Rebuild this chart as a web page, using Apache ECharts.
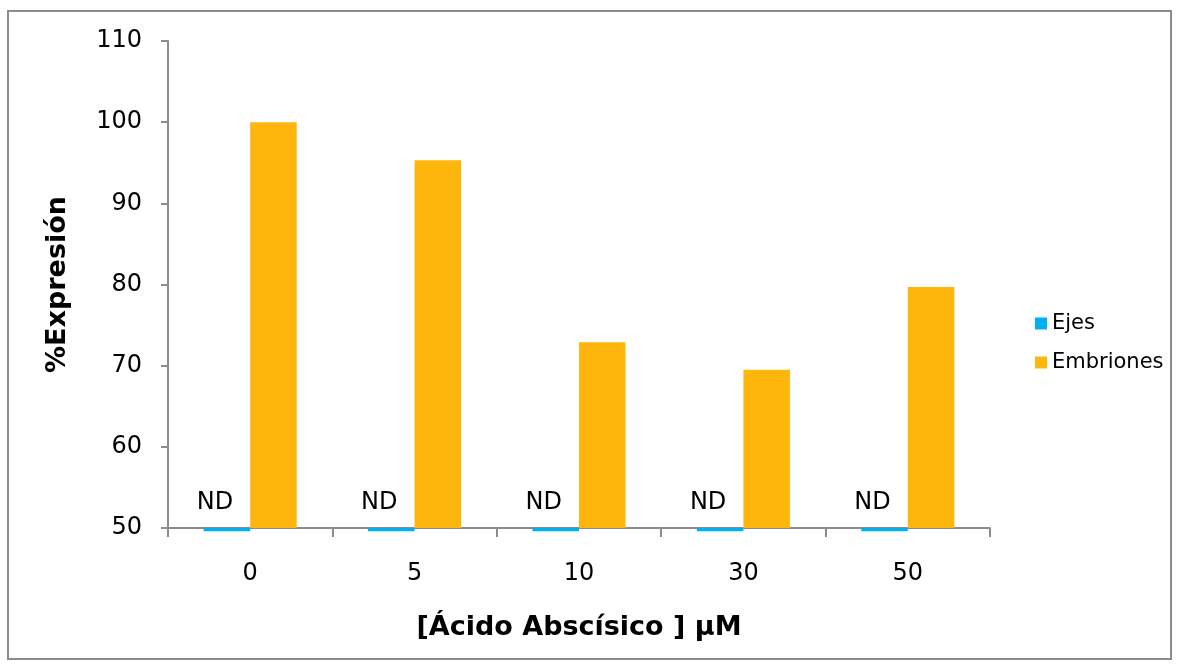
<!DOCTYPE html>
<html>
<head>
<meta charset="utf-8">
<script src="https://cdn.jsdelivr.net/npm/echarts@6/dist/echarts.min.js"></script>
<style>
  html, body { margin: 0; padding: 0; background: #fff; }
  #frame { position: absolute; left: 7px; top: 10px; width: 1165px; height: 650px; border: 2px solid #8c8c8c; box-sizing: border-box; }
  #chart { position: absolute; left: 0; top: 0; width: 1179px; height: 666px; }
</style>
</head>
<body>
<div id="frame"></div>
<div id="chart"></div>
<script>
// ABA concentrations (µM)
const categories = ['0', '5', '10', '30', '50'];
// Expression in axes: not detected, a sliver just under the baseline
const ejes = [49.6, 49.6, 49.6, 49.6, 49.6];
// Expression in embryos (%)
const embriones = [100, 95.3, 72.9, 69.5, 79.7];
const yTicks = { min: 50, max: 110, interval: 10 };

const font = 'Verdana, "DejaVu Sans", sans-serif';
const BAR_FRACTION = 0.283;   // bar width as a share of the category band

// Grouped bars drawn from the axis floor (yTicks.min) to each value.
function barRenderer(slot, withLabel) {
  return function (params, api) {
    const idx = api.value(0);
    const v = api.value(1);
    const band = api.size([1, 0])[0];
    const bw = band * BAR_FRACTION;
    const base = api.coord([idx, yTicks.min]);
    const end = api.coord([idx, v]);
    const x = slot === 0 ? base[0] - bw : base[0];
    const y0 = Math.min(base[1], end[1]);
    const h = Math.abs(base[1] - end[1]);
    const children = [{
      type: 'rect',
      shape: { x: x, y: y0, width: bw, height: h },
      style: api.style()
    }];
    if (withLabel) {
      children.push({
        type: 'text',
        style: {
          text: 'ND', x: x + bw / 2 - 12, y: base[1] - 25,
          align: 'center', verticalAlign: 'middle',
          fill: '#000', font: '24px ' + font
        }
      });
    }
    return { type: 'group', children: children };
  };
}

const chart = echarts.init(document.getElementById('chart'));
chart.setOption({
  animation: false,
  textStyle: { fontFamily: font },
  grid: { left: 168, right: 189, top: 41, bottom: 138, containLabel: false },
  legend: {
    orient: 'vertical', left: 1030, top: 308, itemGap: 18,
    itemWidth: 12, itemHeight: 12, icon: 'rect',
    textStyle: { fontSize: 21, color: '#000', fontFamily: font },
    data: ['Ejes', 'Embriones']
  },
  xAxis: {
    type: 'category', data: categories,
    name: '[Ácido Abscísico ] μM', nameLocation: 'middle', nameGap: 86,
    nameTextStyle: { fontSize: 27, fontWeight: 'bold', color: '#000', fontFamily: font },
    axisLine: { lineStyle: { color: '#8c8c8c', width: 2 } },
    axisTick: { show: true, length: 9, lineStyle: { color: '#8c8c8c', width: 2 } },
    axisLabel: { fontSize: 24, color: '#000', margin: 34, fontFamily: font }
  },
  yAxis: {
    type: 'value', min: yTicks.min, max: yTicks.max, interval: yTicks.interval,
    name: '%Expresión', nameLocation: 'middle', nameGap: 97, nameRotate: 90,
    nameTextStyle: { fontSize: 27, fontWeight: 'bold', color: '#000', fontFamily: font },
    axisLine: { show: true, lineStyle: { color: '#8c8c8c', width: 2 } },
    axisTick: { show: true, length: 7, lineStyle: { color: '#8c8c8c', width: 2 } },
    axisLabel: { fontSize: 24, color: '#000', margin: 26, fontFamily: font },
    splitLine: { show: false }
  },
  series: [
    {
      name: 'Ejes', type: 'custom', clip: false, z: 1,
      data: ejes.map((v, i) => [i, v]),
      encode: { x: 0, y: 1 },
      itemStyle: { color: '#00b0f0' },
      renderItem: barRenderer(0, true)
    },
    {
      name: 'Embriones', type: 'custom', z: 2,
      data: embriones.map((v, i) => [i, v]),
      encode: { x: 0, y: 1 },
      itemStyle: { color: '#ffb60c' },
      renderItem: barRenderer(1, false)
    }
  ]
});
</script>
</body>
</html>
